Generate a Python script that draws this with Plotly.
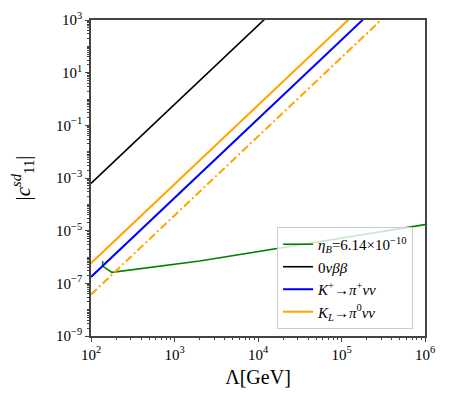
# -*- coding: utf-8 -*-

"""
Cotas sobre |c_11^sd| en función de la escala Λ (log-log).
"""

import plotly.graph_objects as go


# Escala Λ [GeV] para las rectas (extremos del eje)
LAMBDA_RECTAS = [1e2, 1e6]

# Rectas (valor en Λ=1e2 y en Λ=1e6)
C_0VBB = [6.2e-4, 6.2e8]
C_KPLUS = [1.75e-7, 1.75e5]
C_KL = [5.8e-7, 5.8e5]
C_KL_DASH = [3.8e-8, 3.8e4]

# Curva de bariogénesis
LAMBDA_ETAB = [138, 138, 178, 2000, 1e6]
C_ETAB = [7.1e-7, 4.5e-7, 2.6e-7, 7.0e-7, 1.7e-5]

# Marcas de los ejes (exponentes)
EXP_X = [2, 3, 4, 5, 6]
EXP_Y = [-9, -7, -5, -3, -1, 1, 3]

FUENTE = 'Liberation Serif'

COLORES = {
    'etab': '#008000',
    '0vbb': '#000000',
    'kplus': '#0000FF',
    'kl': '#FFA500',
}


def _etiquetas(exponentes):
    """Texto 10^n para cada exponente."""
    return [f"10<sup>{str(e).replace('-', '−')}</sup>" for e in exponentes]


def grafico_cotas():
    fig = go.Figure()

    fig.add_trace(go.Scatter(
        x=LAMBDA_ETAB, y=C_ETAB,
        mode='lines',
        name='<i>η</i><sub><i>B</i></sub>=6.14×10<sup>−10</sup>',
        line=dict(color=COLORES['etab'], width=1.6)
    ))
    fig.add_trace(go.Scatter(
        x=LAMBDA_RECTAS, y=C_0VBB,
        mode='lines',
        name='0<i>νββ</i>',
        line=dict(color=COLORES['0vbb'], width=1.6)
    ))
    fig.add_trace(go.Scatter(
        x=LAMBDA_RECTAS, y=C_KPLUS,
        mode='lines',
        name='<i>K</i><sup>+</sup>→<i>π</i><sup>+</sup><i>νν</i>',
        line=dict(color=COLORES['kplus'], width=2)
    ))
    fig.add_trace(go.Scatter(
        x=LAMBDA_RECTAS, y=C_KL,
        mode='lines',
        name='<i>K</i><sub><i>L</i></sub>→<i>π</i><sup>0</sup><i>νν</i>',
        line=dict(color=COLORES['kl'], width=2)
    ))
    fig.add_trace(go.Scatter(
        x=LAMBDA_RECTAS, y=C_KL_DASH,
        mode='lines',
        showlegend=False,
        line=dict(color=COLORES['kl'], width=2, dash='8px,3px,2px,3px')
    ))

    eje = dict(
        type='log',
        automargin=False,
        showline=True, mirror=True,
        linecolor='#444444', linewidth=1.5,
        showgrid=False, zeroline=False,
        ticks='outside', ticklen=4, tickwidth=1, tickcolor='#444444',
        tickfont=dict(family=FUENTE, size=15, color='black'),
        minor=dict(dtick='D1', ticks='outside', ticklen=2, tickcolor='#444444'),
    )

    # la página añade 8 px de margen al cuerpo: se descuenta aquí
    fig.update_layout(
        width=441, height=391,
        paper_bgcolor='white', plot_bgcolor='white',
        margin=dict(l=83, r=24, t=12, b=63),
        font=dict(family=FUENTE, size=14, color='black'),
        xaxis=dict(eje, range=[2, 6], tickmode='array',
                   tickvals=[10 ** e for e in EXP_X], ticktext=_etiquetas(EXP_X),
                   title=dict(text='Λ[GeV]', font=dict(size=20), standoff=8)),
        yaxis=dict(eje, range=[-9, 3], tickmode='array',
                   tickvals=[10.0 ** e for e in EXP_Y], ticktext=_etiquetas(EXP_Y),
                   title=dict(text='|<i>c</i><sup><i>sd</i></sup><sub>11</sub>|',
                              font=dict(size=21), standoff=26)),
        legend=dict(
            x=0.557, y=0.345, xanchor='left', yanchor='top',
            bgcolor='rgba(255,255,255,0.8)',
            bordercolor='#cccccc', borderwidth=1,
            font=dict(family=FUENTE, size=15),
        ),
        showlegend=True,
    )

    return fig


fig = grafico_cotas()
fig.write_html("out.html")
